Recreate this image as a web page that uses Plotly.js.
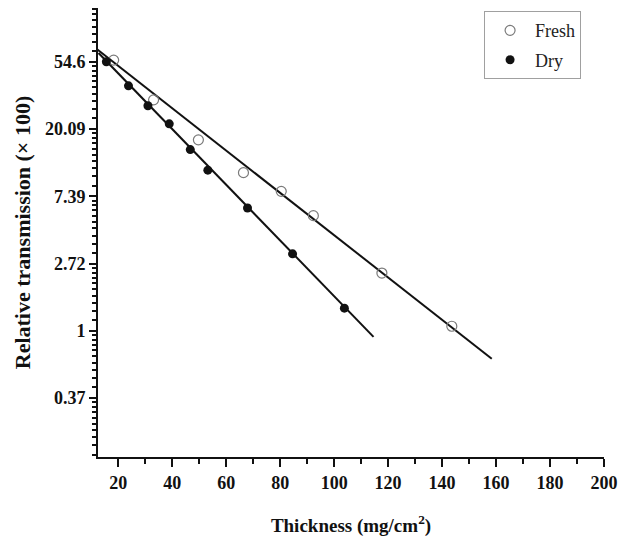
<!DOCTYPE html>
<html>
<head>
<meta charset="utf-8">
<script src="https://cdn.plot.ly/plotly-3.0.1.min.js"></script>
<style>
  html, body { margin: 0; padding: 0; background: #fff; }
  #chart { width: 622px; height: 537px; }
</style>
</head>
<body>
<div id="chart"></div>
<script>
// Measured transmission vs. absorber thickness
const freshThickness = [18.3, 33.1, 49.7, 66.4, 80.4, 92.3, 117.7, 143.6];
const freshTransmission = [56.0, 31.0, 17.1, 10.5, 7.95, 5.54, 2.36, 1.07];
const dryThickness = [15.6, 23.8, 31.0, 38.9, 46.7, 53.2, 67.9, 84.6, 103.8];
const dryTransmission = [54.6, 38.2, 28.4, 21.7, 14.8, 10.9, 6.21, 3.14, 1.40];

// Exponential fit lines (end points)
const freshFitThickness = [12.1, 158.4];
const freshFitTransmission = [65.8, 0.66];
const dryFitThickness = [12.7, 114.6];
const dryFitTransmission = [62.2, 0.914];

// Axis ticks: powers of e on the transmission axis
const yTickValues = [54.598, 20.086, 7.389, 2.718, 1, 0.3679];
const yTickLabels = ['54.6', '20.09', '7.39', '2.72', '1', '0.37'];
const xTickValues = [20, 40, 60, 80, 100, 120, 140, 160, 180, 200];

// Minor ticks: nine linear steps inside each e-interval
const yMinorValues = [];
for (let n = -2; n <= 4; n++) {
  const lo = Math.exp(n), hi = Math.exp(n + 1);
  for (let k = 1; k <= 9; k++) yMinorValues.push(lo + k * (hi - lo) / 10);
}

const serif = 'Liberation Serif, Times New Roman, serif';
const tickFont = { family: serif, size: 18, color: '#111', weight: 'bold' };

const traces = [
  {
    x: freshFitThickness, y: freshFitTransmission, mode: 'lines',
    line: { color: '#111', width: 2 }, showlegend: false, hoverinfo: 'skip'
  },
  {
    x: dryFitThickness, y: dryFitTransmission, mode: 'lines',
    line: { color: '#111', width: 2 }, showlegend: false, hoverinfo: 'skip'
  },
  {
    name: 'Fresh', x: freshThickness, y: freshTransmission, mode: 'markers',
    marker: { symbol: 'circle-open', size: 10, color: '#7a7a7a', line: { width: 1.2, color: '#7a7a7a' } },
    legendgroup: 'a'
  },
  {
    name: 'Dry', x: dryThickness, y: dryTransmission, mode: 'markers',
    marker: { symbol: 'circle', size: 9, color: '#111' },
    legendgroup: 'b'
  }
];

const layout = {
  width: 622, height: 537,
  margin: { l: 98, r: 18, t: 8, b: 80 },
  paper_bgcolor: '#fff', plot_bgcolor: '#fff',
  font: { family: serif, color: '#111' },
  xaxis: {
    range: [12.5, 200],
    showgrid: false, zeroline: false,
    showline: true, linecolor: '#111', linewidth: 2,
    ticks: 'outside', ticklen: 8, tickwidth: 2, tickcolor: '#111',
    tickmode: 'array', tickvals: xTickValues,
    minor: { dtick: 10, tick0: 0, ticks: 'outside', ticklen: 5, tickwidth: 2, tickcolor: '#111' },
    tickfont: tickFont,
    title: { text: 'Thickness (mg/cm<sup>2</sup>)', font: { family: serif, size: 19, weight: 'bold', color: '#111' }, standoff: 28 }
  },
  yaxis: {
    type: 'log',
    range: [-1.877 / Math.LN10, 4.80 / Math.LN10],
    showgrid: false, zeroline: false,
    showline: true, linecolor: '#111', linewidth: 2,
    ticks: 'outside', ticklen: 7, tickwidth: 2, tickcolor: '#111',
    tickmode: 'array', tickvals: yTickValues, ticktext: yTickLabels,
    minor: { tickmode: 'array', tickvals: yMinorValues, ticks: 'outside', ticklen: 4, tickwidth: 2, tickcolor: '#111' },
    tickfont: tickFont,
    title: { text: 'Relative transmission (× 100)', font: { family: serif, size: 22, weight: 'bold', color: '#111' }, standoff: 8 }
  },
  legend: {
    x: 0.763, y: 0.993, xanchor: 'left', yanchor: 'top',
    bgcolor: '#fff', bordercolor: '#a0a0a0', borderwidth: 1,
    font: { family: serif, size: 18, color: '#222' },
    itemwidth: 40,
    traceorder: 'grouped', tracegroupgap: 3
  },
  showlegend: true
};

Plotly.newPlot('chart', traces, layout, { displayModeBar: false, staticPlot: true });
</script>
</body>
</html>
